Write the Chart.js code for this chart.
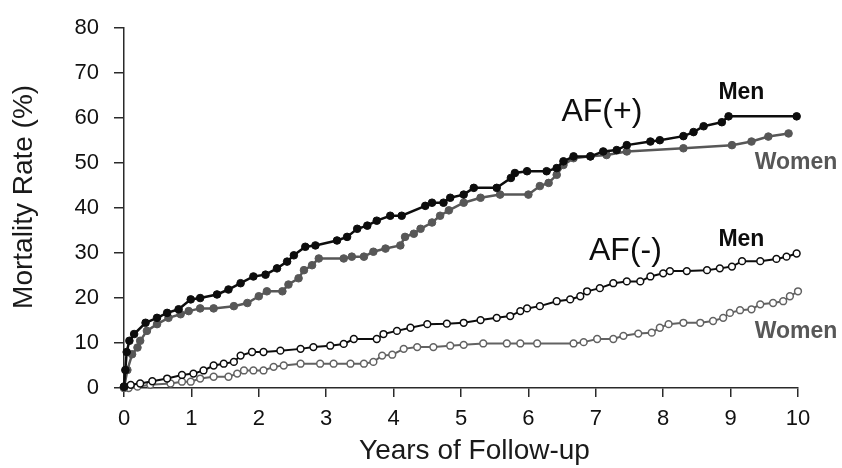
<!DOCTYPE html>
<html>
<head>
<meta charset="utf-8">
<script src="https://cdn.jsdelivr.net/npm/chart.js@4.4.1/dist/chart.umd.min.js"></script>
<style>
    html, body { margin: 0; padding: 0; background: #fff; }
    #wrap { width: 842px; height: 468px; }
</style>
</head>
<body>
<div id="wrap"><canvas id="mortalityChart" width="842" height="468"></canvas></div>
<script>
// Données : [années, mortalité %]
const afPosMen = [
    [0, 0.3], [0.02, 4], [0.04, 8], [0.08, 10.5], [0.15, 12], [0.32, 14.5], [0.49, 15.6],
    [0.64, 16.7], [0.81, 17.5], [0.99, 19.7], [1.13, 20], [1.38, 20.8], [1.55, 21.9],
    [1.73, 23.3], [1.92, 24.8], [2.1, 25.2], [2.27, 26.6], [2.42, 28.1], [2.52, 29.5],
    [2.69, 31.4], [2.84, 31.7], [3.16, 32.8], [3.31, 33.6], [3.46, 35.4], [3.61, 36.1],
    [3.75, 37.2], [3.95, 38.3], [4.12, 38.3], [4.47, 40.5], [4.57, 41.2], [4.74, 41.2],
    [4.84, 42.3], [5.04, 43], [5.19, 44.5], [5.53, 44.5], [5.74, 46.7], [5.8, 47.8],
    [5.98, 48.2], [6.27, 48.2], [6.42, 48.9], [6.52, 50.4], [6.67, 51.5], [6.92, 51.5],
    [7.11, 52.6], [7.31, 52.9], [7.46, 54], [7.81, 54.8], [7.95, 55.1], [8.3, 56],
    [8.45, 56.9], [8.6, 58.2], [8.87, 59.1], [8.97, 60.4], [9.98, 60.4]
];
const afPosWomen = [
    [0, 0], [0.05, 4], [0.12, 7.5], [0.2, 9], [0.24, 10.5], [0.34, 12.7], [0.49, 14.2],
    [0.66, 15.6], [0.84, 16.4], [0.96, 17.1], [1.13, 17.7], [1.33, 17.7], [1.63, 18.2],
    [1.83, 18.9], [2.0, 20.4], [2.12, 21.5], [2.35, 21.5], [2.44, 23], [2.59, 24.4],
    [2.67, 26.2], [2.79, 27.3], [2.89, 28.8], [3.26, 28.8], [3.38, 29.2], [3.56, 29.2],
    [3.7, 30.3], [3.88, 31], [4.1, 31.7], [4.17, 33.6], [4.3, 34.3], [4.4, 35.4],
    [4.57, 36.8], [4.69, 38.3], [4.82, 39.5], [5.04, 41.2], [5.29, 42.3], [5.58, 43],
    [6.0, 43], [6.17, 44.9], [6.3, 45.6], [6.42, 47.4], [6.52, 49.6], [6.67, 51.1],
    [6.92, 51.5], [7.16, 51.8], [7.46, 52.6], [8.3, 53.3], [9.02, 54], [9.31, 54.8],
    [9.56, 55.9], [9.86, 56.6]
];
const afNegMen = [
    [0, 0.3], [0.1, 0.7], [0.24, 1], [0.42, 1.5], [0.64, 2.1], [0.86, 2.9], [1.03, 3.2],
    [1.18, 3.9], [1.33, 5], [1.48, 5.4], [1.63, 5.8], [1.73, 7.2], [1.9, 8], [2.07, 8],
    [2.32, 8.3], [2.62, 8.7], [2.81, 9.1], [3.06, 9.4], [3.26, 9.8], [3.41, 10.9],
    [3.75, 10.9], [3.85, 12], [4.05, 12.7], [4.25, 13.4], [4.5, 14.2], [4.79, 14.3],
    [5.04, 14.5], [5.29, 15.1], [5.53, 15.6], [5.73, 16], [5.88, 17.1], [5.98, 17.7],
    [6.17, 18.2], [6.42, 19.3], [6.62, 19.7], [6.77, 20.4], [6.87, 21.5], [7.06, 22.2],
    [7.26, 23.3], [7.46, 23.7], [7.66, 23.7], [7.81, 24.8], [8.0, 25.5], [8.1, 26],
    [8.35, 26], [8.65, 26.2], [8.84, 26.6], [9.02, 27], [9.17, 28.2], [9.44, 28.2],
    [9.68, 28.7], [9.83, 29.2], [9.98, 29.9]
];
const afNegWomen = [
    [0.07, 0], [0.2, 0.3], [0.39, 0.7], [0.69, 1], [0.86, 1.4], [0.99, 1.4], [1.13, 2.1],
    [1.33, 2.5], [1.55, 2.5], [1.68, 3.2], [1.78, 3.9], [1.92, 3.9], [2.07, 3.9],
    [2.22, 4.7], [2.37, 5], [2.62, 5.4], [2.91, 5.4], [3.11, 5.4], [3.36, 5.4], [3.56, 5.4],
    [3.7, 5.8], [3.83, 7.2], [3.98, 7.4], [4.15, 8.7], [4.35, 9.1], [4.59, 9.1], [4.84, 9.4],
    [5.04, 9.6], [5.33, 9.9], [5.68, 9.9], [5.88, 9.9], [6.13, 9.9], [6.67, 9.9],
    [6.82, 10.2], [7.02, 10.9], [7.26, 10.9], [7.41, 11.6], [7.63, 12.1], [7.83, 12.3],
    [7.95, 13.4], [8.08, 14.2], [8.3, 14.5], [8.55, 14.5], [8.74, 14.9], [8.89, 15.6],
    [8.99, 16.7], [9.14, 17.3], [9.31, 17.5], [9.44, 18.6], [9.63, 18.9], [9.78, 19.3],
    [9.88, 20.4], [10.0, 21.5]
];

// Graduations des axes
const xTicks = [0, 1, 2, 3, 4, 5, 6, 7, 8, 9, 10];
const yTicks = [0, 10, 20, 30, 40, 50, 60, 70, 80];

const xTitle = 'Years of Follow-up';
const yTitle = 'Mortality Rate (%)';

// Étiquettes posées dans le graphique (coordonnées en données)
const labelTexts = ['AF(+)', 'Men', 'Women', 'AF(-)', 'Men', 'Women'];
const labelX = [7.09, 9.16, 9.97, 7.44, 9.16, 9.97];
const labelY = [61.4, 65.7, 50, 30.5, 32.9, 12.5];

const FONT = '"Liberation Sans", Arial, Helvetica, sans-serif';
const BLACK = '#0d0d0d';
const GREY = '#575757';

function toPoints(pairs) {
    return pairs.map(p => ({ x: p[0], y: p[1] }));
}

// Étiquettes et titres des axes
const textPlugin = {
    id: 'textPlugin',
    afterDraw(chart) {
        const ctx = chart.ctx;
        const xs = chart.scales.x;
        const ys = chart.scales.y;
        ctx.save();
        ctx.textAlign = 'center';
        ctx.textBaseline = 'middle';
        labelTexts.forEach((txt, i) => {
            const isAF = txt.startsWith('AF');
            const isWomen = txt === 'Women';
            ctx.font = isAF ? '32px ' + FONT : 'bold 23px ' + FONT;
            ctx.fillStyle = isWomen ? GREY : BLACK;
            ctx.fillText(txt, xs.getPixelForValue(labelX[i]), ys.getPixelForValue(labelY[i]));
        });

        ctx.fillStyle = '#1a1a1a';
        ctx.font = '28px ' + FONT;
        ctx.fillText(xTitle, xs.getPixelForValue(5.2), 451);

        ctx.translate(24, ys.getPixelForValue(42.5));
        ctx.rotate(-Math.PI / 2);
        ctx.fillText(yTitle, 0, 0);
        ctx.restore();
    }
};

document.addEventListener('DOMContentLoaded', function() {
    const ctx = document.getElementById('mortalityChart').getContext('2d');

    const lineStyle = (pairs, color, filled) => ({
        data: toPoints(pairs),
        borderColor: color,
        borderWidth: filled ? 2.5 : 2,
        pointRadius: filled ? 3.8 : 3.4,
        pointBackgroundColor: filled ? color : '#ffffff',
        pointBorderColor: color,
        pointBorderWidth: filled ? 1 : 1.5,
        tension: 0,
        clip: false
    });

    new Chart(ctx, {
        type: 'line',
        data: {
            datasets: [
                lineStyle(afPosMen, BLACK, true),
                lineStyle(afNegMen, BLACK, false),
                lineStyle(afPosWomen, GREY, true),
                lineStyle(afNegWomen, '#626262', false)
            ]
        },
        options: {
            responsive: false,
            animation: false,
            layout: { padding: { left: 0, right: 44, top: 23, bottom: 0 } },
            plugins: {
                legend: { display: false },
                tooltip: { enabled: false }
            },
            scales: {
                x: {
                    type: 'linear',
                    min: 0,
                    max: 10,
                    afterFit: scale => { scale.height = 80; },
                    afterBuildTicks: scale => { scale.ticks = xTicks.map(v => ({ value: v })); },
                    border: { display: true, color: '#2a2a2a', width: 1.5 },
                    grid: { drawOnChartArea: false, drawTicks: true, tickLength: 9, color: '#2a2a2a', lineWidth: 1.5 },
                    ticks: { color: '#111', padding: 9, maxRotation: 0, font: { family: FONT, size: 22 } }
                },
                y: {
                    min: 0,
                    max: 80,
                    afterFit: scale => { scale.width = 124; },
                    afterBuildTicks: scale => { scale.ticks = yTicks.map(v => ({ value: v })); },
                    border: { display: true, color: '#2a2a2a', width: 1.5 },
                    grid: { drawOnChartArea: false, drawTicks: true, tickLength: 10, color: '#2a2a2a', lineWidth: 1.5 },
                    ticks: { color: '#111', padding: 15, font: { family: FONT, size: 22 } }
                }
            }
        },
        plugins: [textPlugin]
    });
});
</script>
</body>
</html>
